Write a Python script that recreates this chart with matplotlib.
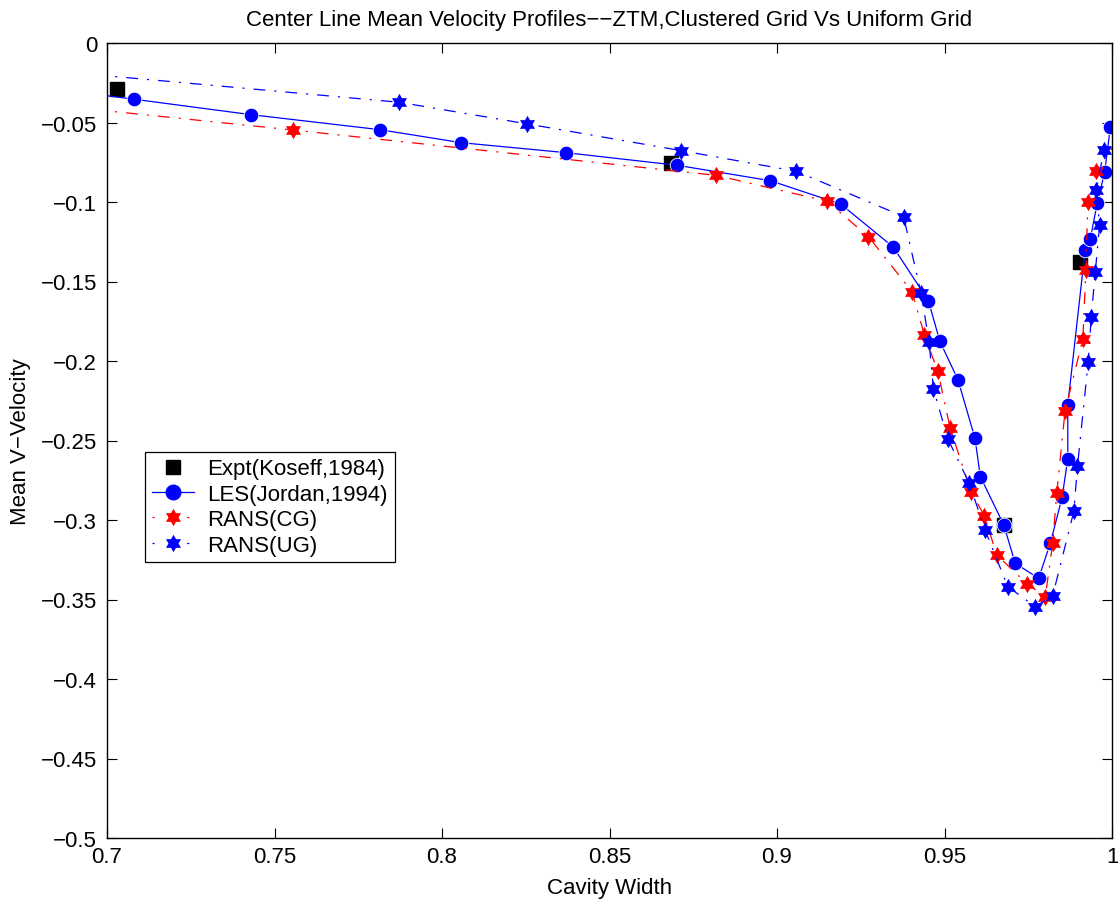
import matplotlib
matplotlib.use("Agg")
import matplotlib.pyplot as plt
import numpy as np
from matplotlib.path import Path
from matplotlib.lines import Line2D
from matplotlib.ticker import FuncFormatter

plt.rcParams["font.family"] = ["Liberation Sans", "DejaVu Sans"]
plt.rcParams["lines.scale_dashes"] = False

# experiment (Koseff, 1984)
expt_x = [0.7031, 0.8684, 0.9677, 0.9903]
expt_y = [-0.0289, -0.0755, -0.3031, -0.1380]

# LES (Jordan, 1994)
les_x = [0.670, 0.7082, 0.7431, 0.7814, 0.8058, 0.8371, 0.8702, 0.8980, 0.9190,
         0.9347, 0.9452, 0.9486, 0.9540, 0.9591, 0.9607, 0.9677, 0.9711, 0.9781,
         0.9816, 0.9851, 0.9868, 0.9868, 0.9920, 0.9935, 0.9956, 0.9978, 0.9995]
les_y = [-0.0250, -0.0354, -0.0451, -0.0545, -0.0627, -0.0690, -0.0769, -0.0866, -0.1013,
         -0.1283, -0.1621, -0.1875, -0.2117, -0.2486, -0.2727, -0.3031, -0.3272, -0.3367,
         -0.3145, -0.2858, -0.2616, -0.2277, -0.1300, -0.1233, -0.1008, -0.0813, -0.0530]

# RANS, clustered grid
cg_x = [0.660, 0.7554, 0.8817, 0.9148, 0.9273, 0.9403, 0.9440, 0.9480, 0.9517, 0.9579,
        0.9619, 0.9656, 0.9747, 0.9801, 0.9823, 0.9835, 0.9860, 0.9913, 0.9922, 0.9928,
        0.9952, 1.012]
cg_y = [-0.0340, -0.0547, -0.0832, -0.0994, -0.1218, -0.1564, -0.1836, -0.2065, -0.2423, -0.2822,
        -0.2973, -0.3220, -0.3403, -0.3482, -0.3145, -0.2833, -0.2312, -0.1862, -0.1430, -0.1002,
        -0.0805, -0.0300]

# RANS, uniform grid
ug_x = [0.660, 0.7873, 0.8255, 0.8714, 0.9058, 0.9378, 0.9430, 0.9454, 0.9467, 0.9510,
        0.9574, 0.9621, 0.9689, 0.9771, 0.9823, 0.9886, 0.9897, 0.9929, 0.9938, 0.9950,
        0.9963, 0.9953, 0.9976]
ug_y = [-0.0130, -0.0373, -0.0509, -0.0677, -0.0807, -0.1092, -0.1574, -0.1879, -0.2176, -0.2490,
        -0.2769, -0.3063, -0.3419, -0.3545, -0.3476, -0.2946, -0.2662, -0.2004, -0.1726, -0.1442,
        -0.1145, -0.0925, -0.0673]

# six-pointed star (matlab 'hexagram')
ang = np.pi / 2 + np.arange(12) * np.pi / 6
rad = np.where(np.arange(12) % 2 == 0, 1.0, 1 / np.sqrt(3))
verts = np.column_stack([rad * np.cos(ang), rad * np.sin(ang)])
hexagram = Path(np.vstack([verts, verts[:1]]), closed=True)

fig = plt.figure(figsize=(11.18, 9.03), dpi=100)
ax = fig.add_axes([107 / 1118, 64 / 903, 1005 / 1118, 795 / 903])

dashdot = (0, (8.5, 6.5, 1.5, 6.5))
ax.plot(expt_x, expt_y, "s", color="black", markersize=10.5)
ax.plot(les_x, les_y, "-", color="blue", linewidth=0.9, marker="o", markersize=10.5,
        markeredgecolor="white", markeredgewidth=0.6)
ax.plot(cg_x, cg_y, color="red", linestyle=dashdot, linewidth=0.9,
        marker=hexagram, markersize=12.5, markeredgewidth=0)
ax.plot(ug_x, ug_y, color="blue", linestyle=dashdot, linewidth=0.9,
        marker=hexagram, markersize=12.5, markeredgewidth=0)

ax.set_xlim(0.7, 1.0)
ax.set_ylim(-0.5, 0)
ax.set_xticks([0.7, 0.75, 0.8, 0.85, 0.9, 0.95, 1.0])
ax.set_yticks([0, -0.05, -0.1, -0.15, -0.2, -0.25, -0.3, -0.35, -0.4, -0.45, -0.5])
fmt = FuncFormatter(lambda v, p: ("%g" % round(v, 3)).replace("-", "\u2212"))
ax.xaxis.set_major_formatter(fmt)
ax.yaxis.set_major_formatter(fmt)
ax.tick_params(direction="in", length=7, width=0.8, top=True, right=True, labelsize=16)
ax.tick_params(axis="y", pad=7)
ax.tick_params(axis="x", pad=6)
for s in ax.spines.values():
    s.set_linewidth(1.0)

ax.set_title("Center Line Mean Velocity Profiles\u2212\u2212ZTM,Clustered Grid Vs Uniform Grid",
             fontsize=16, pad=13)
ax.set_xlabel("Cavity Width", fontsize=16, labelpad=7)
ax.set_ylabel("Mean V\u2212Velocity", fontsize=16, labelpad=7)

# legend proxies
h_expt = Line2D([], [], linestyle="none", marker="s", color="black", markersize=10.5)
h_les = Line2D([], [], color="blue", linewidth=0.9, marker="o", markersize=10.5)
h_cg = Line2D([], [], color="red", linestyle=(0, (1.5, 11)), linewidth=0.9,
              marker=hexagram, markersize=12.5, markeredgewidth=0)
h_ug = Line2D([], [], color="blue", linestyle=(0, (1.5, 11)), linewidth=0.9,
              marker=hexagram, markersize=12.5, markeredgewidth=0)
leg = ax.legend([h_expt, h_les, h_cg, h_ug],
                ["Expt(Koseff,1984)", "LES(Jordan,1994)", "RANS(CG)", "RANS(UG)"],
                loc="upper left", bbox_to_anchor=(0.038, 0.486), fontsize=16,
                fancybox=False, edgecolor="black", framealpha=1, borderpad=0.3,
                labelspacing=0.2, handlelength=1.9, handletextpad=0.6, borderaxespad=0)
leg.get_frame().set_linewidth(0.9)

fig.savefig("out.png", dpi=100)
